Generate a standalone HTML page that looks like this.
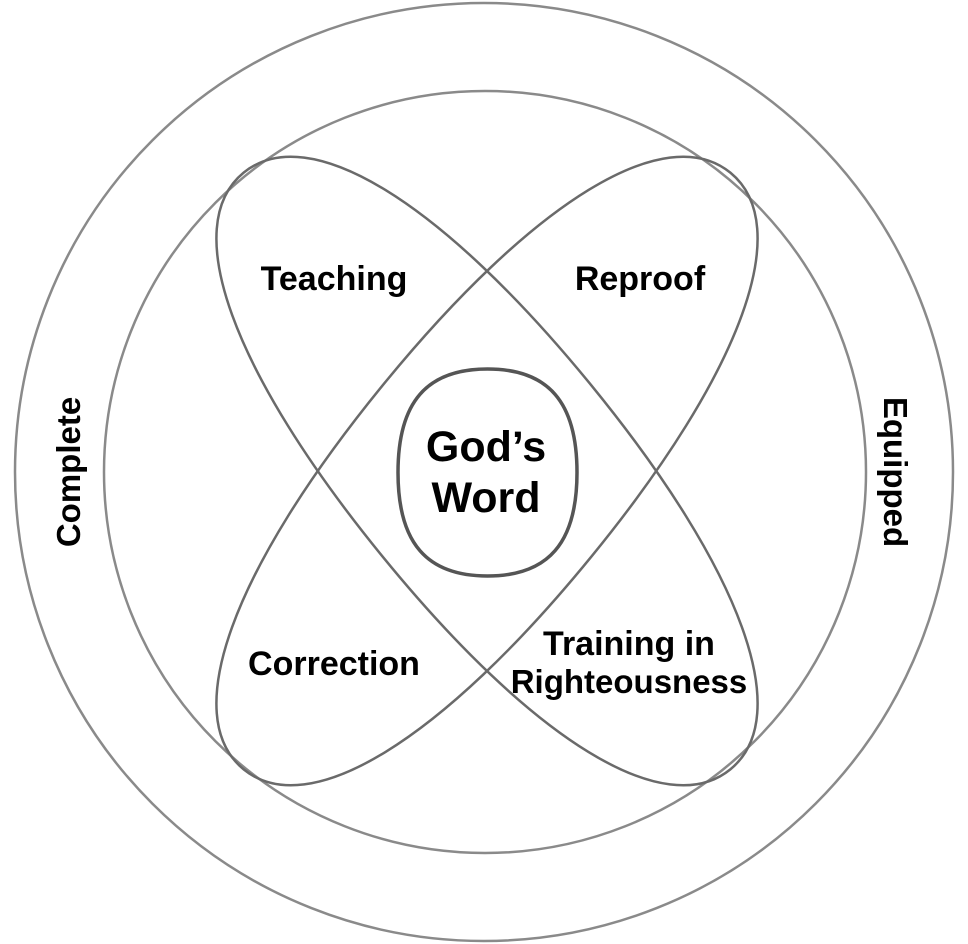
<!DOCTYPE html>
<html><head><meta charset="utf-8"><style>
html,body{margin:0;padding:0;background:#fff;}
svg{display:block;}
text{font-family:"Liberation Sans",Arial,sans-serif;font-weight:bold;fill:#000;text-anchor:middle;}
</style></head><body>
<svg width="968" height="944" viewBox="0 0 968 944" xmlns="http://www.w3.org/2000/svg">
<circle cx="484" cy="472" r="469" fill="none" stroke="#8a8a8a" stroke-width="2.5"/>
<circle cx="485" cy="472" r="381" fill="none" stroke="#8a8a8a" stroke-width="2.5"/>
<path d="M385,0 C385,83.7 238.7,135 0,135 C-238.7,135 -385,83.7 -385,0 C-385,-83.7 -238.7,-135 0,-135 C238.7,-135 385,-83.7 385,0Z" transform="translate(487 471) rotate(50.8)" fill="none" stroke="#6a6a6a" stroke-width="2.5"/>
<path d="M385,0 C385,83.7 238.7,135 0,135 C-238.7,135 -385,83.7 -385,0 C-385,-83.7 -238.7,-135 0,-135 C238.7,-135 385,-83.7 385,0Z" transform="translate(487 471) rotate(-50.8)" fill="none" stroke="#6a6a6a" stroke-width="2.5"/>
<path d="M487.5,369 C548.4,369 577,402.1 577,472.5 C577,542.9 548.4,576 487.5,576 C426.6,576 398,542.9 398,472.5 C398,402.1 426.6,369 487.5,369 Z" fill="none" stroke="#555" stroke-width="3.5"/>
<text x="334" y="290" font-size="34">Teaching</text>
<text x="640" y="290" font-size="34">Reproof</text>
<text x="334" y="675" font-size="34">Correction</text>
<text x="629" y="655" font-size="34">Training in</text>
<text x="629" y="693" font-size="33">Righteousness</text>
<text x="486" y="461" font-size="43">God’s</text>
<text x="486" y="512" font-size="43">Word</text>
<text x="0" y="0" font-size="33" transform="translate(80 472) rotate(-90)">Complete</text>
<text x="0" y="0" font-size="33" transform="translate(884 472) rotate(90)">Equipped</text>
</svg>
</body></html>
